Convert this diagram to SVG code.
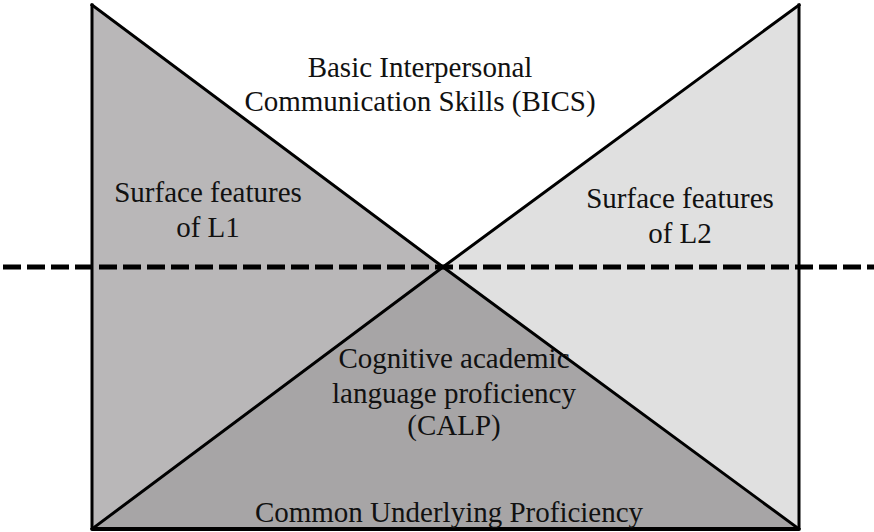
<svg xmlns="http://www.w3.org/2000/svg" width="874" height="532" viewBox="0 0 874 532">
<style>
.t{font-family:"Liberation Serif","Times New Roman",serif;font-size:29px;fill:#111;text-anchor:middle}
.edge{fill:none;stroke:#000;stroke-width:3;stroke-linecap:square}
</style>
<rect width="874" height="532" fill="#fff"/>
<g id="l1">
<polygon points="92,5 443,267 92,529" fill="#b9b7b8"/>
</g>
<g id="l2">
<polygon points="799,5 443,267 799,529" fill="#e0e0e0"/>
</g>
<g id="calp">
<polygon points="92,529 443,267 799,529" fill="#a7a5a6"/>
</g>
<g id="outline">
<polyline class="edge" points="92,5 92,529"/>
<polyline class="edge" points="799,5 799,529"/>
<polyline class="edge" points="92,5 443,267 799,529"/>
<polyline class="edge" points="799,5 443,267 92,529"/>
<line x1="92" y1="529" x2="799" y2="529" stroke="#000" stroke-width="4"/>
</g>
<g id="connectors">
<line x1="3" y1="267" x2="874" y2="267" stroke="#000" stroke-width="5" stroke-dasharray="18 6"/>
</g>
<g id="bics-label">
<text class="t" x="420" y="77">Basic Interpersonal</text>
<text class="t" x="420" y="111">Communication Skills (BICS)</text>
</g>
<g id="l1-label">
<text class="t" x="208" y="202">Surface features</text>
<text class="t" x="208" y="237">of L1</text>
</g>
<g id="l2-label">
<text class="t" x="680" y="208">Surface features</text>
<text class="t" x="680" y="243">of L2</text>
</g>
<g id="calp-label">
<text class="t" x="454" y="368">Cognitive academic</text>
<text class="t" x="454" y="403">language proficiency</text>
<text class="t" x="454" y="435">(CALP)</text>
</g>
<g id="cup-label">
<text class="t" x="449" y="522">Common Underlying Proficiency</text>
</g>
</svg>
